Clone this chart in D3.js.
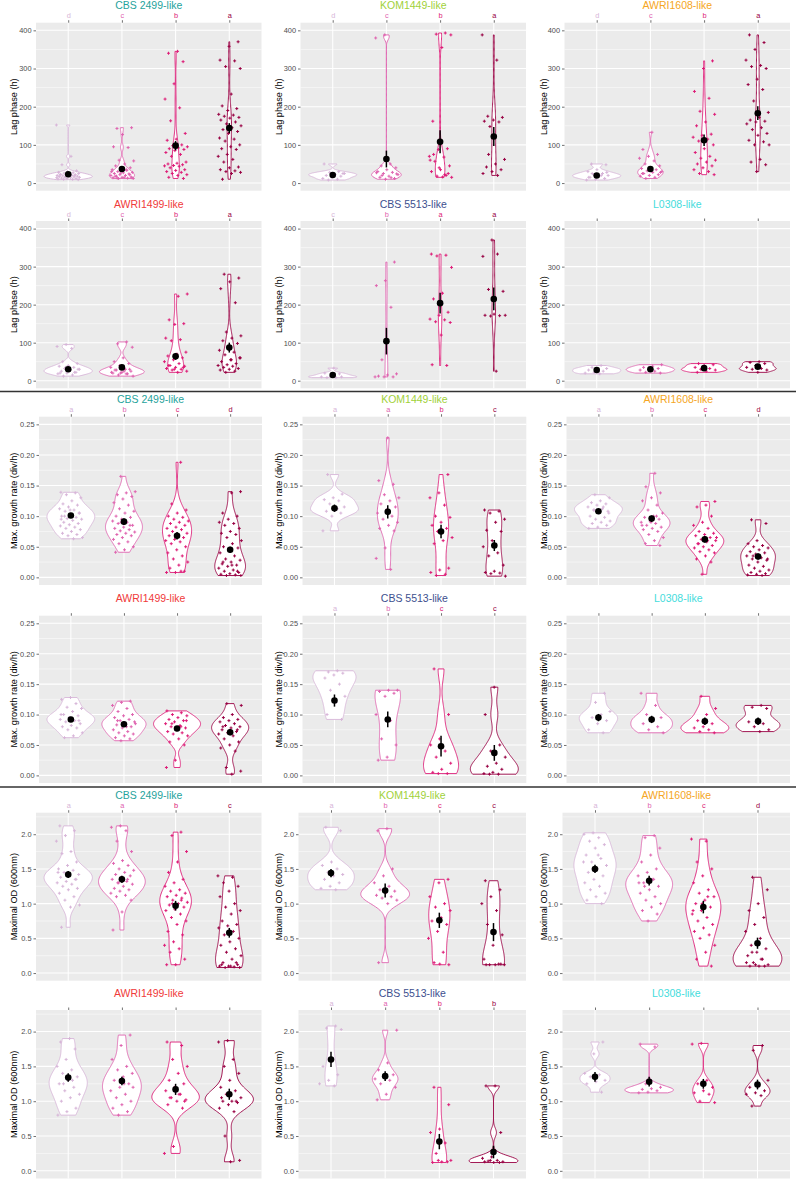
<!DOCTYPE html>
<html><head><meta charset="utf-8">
<script src="https://cdn.jsdelivr.net/npm/d3@7"></script>
<style>body{margin:0;background:#fff} svg{display:block} text{font-family:"Liberation Sans",Arial,sans-serif}</style>
</head><body><svg id="c" width="796" height="1181"></svg>
<script>
const strains = ["CBS 2499-like","KOM1449-like","AWRI1608-like","AWRI1499-like","CBS 5513-like","L0308-like"];
const strainColors = ["#1fa39c","#9fd13a","#f5a623","#f03a3a","#3d4f8e","#45dcdc"];
const groupColors = ["#d7b5d8","#df65b0","#dd1c77","#980043"];
const metricTitles = ["Lag phase (h)","Max. growth rate (div/h)","Maximal OD (600nm)"];
const lagTicks = [0,100,200,300,400];
const growthTicks = [0,0.05,0.10,0.15,0.20,0.25];
const odTicks = [0,0.5,1.0,1.5,2.0];

// ---- Lag phase (h) ----
const lag_CBS2499 = [
 [152,70,48,32,30,28,27,26,25,24,23,22,21,20,20,19,18,18,17,16,15,15,14,13,12,12,11,10,10,9,25,22,19,17,14],
 [143,145,127,95,93,60,58,50,45,40,38,35,33,30,28,27,25,24,22,20,20,18,16,15,14,13,12,12,15,18,22,26,30,35,13,14],
 [345,340,318,260,220,197,163,130,115,112,100,98,95,92,90,88,85,80,75,70,55,52,50,48,46,45,44,40,35,33,30,28,25,22,20,15,12],
 [370,358,322,320,305,300,233,202,195,190,180,178,175,172,170,165,160,155,150,145,140,135,130,118,115,110,100,95,90,88,75,70,62,55,42,40,35,32,30,28,25,10]];
const lag_KOM1449 = [
 [50,30,28,25,22,20,18,15,12,10,8,25,20],
 [388,380,50,45,40,35,30,28,25,22,18,15,12,10,27,14,20,24],
 [393,390,388,355,162,90,88,70,68,57,45,35,30,20,18,15,16,75,25,40,60,22],
 [388,322,175,172,165,162,160,148,62,50,42,35,30,25,20,75]];
const lag_AWRI1608 = [
 [50,48,35,30,25,22,20,18,15,12,10,8,20,25,28,18,15],
 [133,88,75,70,65,58,50,45,40,38,35,32,30,28,25,22,20,18,15,12,28,32,25],
 [320,300,240,222,188,180,160,150,128,125,120,115,110,100,90,80,70,65,60,55,50,45,40,35,30,25,22],
 [388,368,350,322,308,305,300,272,258,245,215,185,172,165,162,160,155,145,140,130,125,112,108,100,100,62,55,48,30]];
const lag_AWRI1499 = [
 [95,90,85,50,45,40,38,35,32,30,28,25,22,20,18,15,12,30,25,20,22,35],
 [102,97,88,60,50,45,40,35,30,28,25,22,20,18,15,12,25,28,30,20,22,18],
 [228,222,160,150,148,112,108,105,75,70,65,60,55,50,45,40,38,35,32,30,28,25,22,40,35,30],
 [280,270,260,242,205,128,118,112,105,98,90,80,75,68,60,55,50,45,42,40,38,35,32,30,28,25,22,60,55]];
const lag_CBS5513 = [
 [33,20,18,12,10,8,8,10,15],
 [312,263,250,193,55,18,15,12,10,10,10],
 [333,330,328,298,230,215,180,172,162,160,155,153,120,42,40],
 [370,327,333,240,235,175,172,171,170,172,25]];
const lag_L0308 = [
 [40,35,32,30,28,25,22,20,18],
 [42,38,35,32,30,28,25,22,20],
 [45,42,40,35,32,30,28,25,22],
 [50,48,45,40,35,32,30,28,22]];
const lagMeans = [[23,37,98,144],[21,63,108,122],[20,37,112,183],[30,35,64,87],[15,104,204,215],[28,30,33,37]];
const lagSE = [[3,5,12,13],[4,22,30,25],[3,6,15,18],[4,5,9,13],[3,35,27,30],[3,3,3,4]];
const lagLetters = [["d","c","b","a"],["d","c","b","a"],["d","c","b","a"],["d","c","b","a"],["c","b","a","a"],["","","",""]];

// ---- Max. growth rate (div/h) ----
const growth_CBS2499 = [
 [0.139,0.138,0.135,0.13,0.125,0.12,0.118,0.115,0.112,0.11,0.108,0.105,0.103,0.1,0.098,0.096,0.095,0.093,0.09,0.088,0.086,0.084,0.082,0.08,0.078,0.075,0.072,0.07,0.068,0.065,0.063,0.1,0.105,0.11,0.095],
 [0.165,0.14,0.138,0.135,0.132,0.128,0.122,0.118,0.112,0.108,0.105,0.1,0.098,0.095,0.092,0.09,0.088,0.085,0.082,0.08,0.078,0.076,0.074,0.072,0.07,0.068,0.065,0.062,0.058,0.055,0.05,0.045,0.041,0.085,0.09],
 [0.188,0.12,0.11,0.105,0.1,0.098,0.095,0.092,0.09,0.088,0.085,0.082,0.08,0.078,0.075,0.072,0.07,0.068,0.065,0.062,0.06,0.058,0.055,0.05,0.045,0.04,0.035,0.03,0.025,0.02,0.015,0.01,0.008,0.008,0.01],
 [0.14,0.138,0.105,0.1,0.095,0.09,0.088,0.085,0.08,0.075,0.072,0.07,0.065,0.06,0.055,0.05,0.048,0.045,0.04,0.035,0.03,0.028,0.025,0.022,0.02,0.018,0.015,0.012,0.01,0.008,0.006,0.005,0.004,0.003,0.003,0.02,0.025,0.01]];
const growth_KOM1449 = [
 [0.168,0.136,0.13,0.127,0.125,0.12,0.115,0.11,0.108,0.105,0.1,0.076,0.112],
 [0.228,0.158,0.152,0.135,0.13,0.125,0.12,0.115,0.11,0.105,0.1,0.095,0.09,0.085,0.08,0.076,0.048,0.031,0.013],
 [0.168,0.138,0.13,0.118,0.1,0.098,0.09,0.085,0.08,0.075,0.065,0.06,0.055,0.015,0.012,0.008,0.005,0.003],
 [0.11,0.108,0.105,0.095,0.09,0.077,0.075,0.06,0.05,0.04,0.035,0.02,0.01,0.008,0.007,0.006,0.002]];
const growth_AWRI1608 = [
 [0.135,0.13,0.125,0.122,0.12,0.118,0.115,0.112,0.11,0.108,0.105,0.1,0.098,0.095,0.092,0.09,0.088,0.085,0.082,0.08,0.115,0.11,0.105],
 [0.17,0.148,0.138,0.13,0.125,0.118,0.11,0.105,0.1,0.098,0.095,0.092,0.09,0.088,0.085,0.082,0.08,0.078,0.075,0.07,0.065,0.06,0.055,0.052,0.09,0.085,0.1],
 [0.124,0.118,0.115,0.1,0.09,0.085,0.08,0.075,0.072,0.07,0.068,0.065,0.062,0.06,0.058,0.055,0.052,0.05,0.048,0.045,0.042,0.04,0.035,0.03,0.025,0.005,0.065,0.06,0.055],
 [0.094,0.088,0.06,0.055,0.052,0.05,0.048,0.045,0.042,0.04,0.038,0.035,0.032,0.03,0.028,0.025,0.02,0.018,0.015,0.012,0.01,0.008,0.006,0.005,0.004,0.003,0.035,0.03]];
const growth_AWRI1499 = [
 [0.128,0.125,0.118,0.112,0.11,0.105,0.1,0.098,0.095,0.092,0.09,0.088,0.085,0.082,0.08,0.078,0.075,0.07,0.065,0.062,0.09,0.095,0.1],
 [0.122,0.12,0.115,0.11,0.105,0.1,0.098,0.095,0.092,0.09,0.088,0.085,0.083,0.08,0.078,0.075,0.072,0.07,0.068,0.065,0.062,0.06,0.057,0.085,0.08,0.09],
 [0.106,0.103,0.1,0.098,0.095,0.092,0.09,0.088,0.085,0.082,0.08,0.078,0.075,0.072,0.07,0.068,0.065,0.06,0.055,0.05,0.025,0.013,0.08,0.085,0.09],
 [0.118,0.115,0.1,0.095,0.092,0.09,0.088,0.085,0.082,0.08,0.078,0.075,0.072,0.07,0.068,0.065,0.06,0.055,0.05,0.045,0.04,0.013,0.007,0.002,0.08,0.075]];
const growth_CBS5513 = [
 [0.172,0.17,0.168,0.165,0.16,0.15,0.14,0.13,0.12,0.1,0.092],
 [0.14,0.14,0.138,0.135,0.13,0.1,0.09,0.06,0.05,0.03,0.025],
 [0.175,0.1,0.06,0.05,0.04,0.03,0.02,0.01,0.005,0.003,0.003],
 [0.145,0.1,0.05,0.04,0.03,0.02,0.015,0.01,0.005,0.003,0.002,0.002]];
const growth_L0308 = [
 [0.135,0.12,0.105,0.1,0.095,0.09,0.085,0.075,0.07],
 [0.135,0.115,0.1,0.095,0.09,0.085,0.08,0.075,0.07],
 [0.13,0.11,0.1,0.09,0.085,0.08,0.078,0.075,0.072,0.07],
 [0.115,0.112,0.11,0.09,0.088,0.085,0.08,0.075,0.072]];
const growthMeans = [[0.101,0.091,0.068,0.045],[0.113,0.107,0.075,0.052],[0.108,0.096,0.062,0.034],[0.092,0.084,0.077,0.071],[0.123,0.092,0.048,0.037],[0.095,0.092,0.089,0.089]];
const growthSE = [[0.004,0.005,0.006,0.005],[0.006,0.011,0.011,0.009],[0.003,0.005,0.005,0.005],[0.004,0.004,0.004,0.005],[0.01,0.013,0.017,0.013],[0.006,0.006,0.006,0.006]];
const growthLetters = [["a","b","c","d"],["a","a","b","c"],["a","b","c","d"],["","","",""],["a","b","c","c"],["","","",""]];

// ---- Maximal OD (600nm) ----
const od_CBS2499 = [
 [2.12,2.05,1.98,1.9,1.75,1.72,1.6,1.55,1.5,1.48,1.45,1.42,1.4,1.38,1.35,1.32,1.3,1.28,1.25,1.22,1.2,1.15,1.1,1.05,0.98,0.95,0.66,1.35,1.4,1.45],
 [2.12,2.1,2.05,1.9,1.75,1.62,1.58,1.55,1.5,1.48,1.45,1.42,1.4,1.38,1.35,1.32,1.3,1.28,1.25,1.22,1.2,1.18,1.15,1.12,1.1,1.05,0.88,0.62,1.35,1.3],
 [2.03,1.98,1.75,1.6,1.45,1.35,1.3,1.25,1.2,1.18,1.15,1.12,1.1,1.08,1.05,1.02,1.0,0.98,0.95,0.92,0.9,0.85,0.8,0.75,0.7,0.6,0.55,0.45,0.4,0.35,0.3,0.2,0.12,0.12,1.05,1.0],
 [1.4,1.38,1.3,1.25,1.18,1.1,1.0,0.95,0.9,0.85,0.75,0.7,0.68,0.65,0.6,0.55,0.5,0.45,0.4,0.35,0.3,0.25,0.2,0.15,0.12,0.1,0.1,0.09,0.08,0.08,0.1,0.12,0.15]];
const od_KOM1449 = [
 [2.1,2.05,1.6,1.55,1.5,1.45,1.42,1.4,1.35,1.3,1.25,1.22,1.2],
 [2.08,2.05,1.5,1.4,1.3,1.25,1.2,1.18,1.15,1.12,1.1,1.08,1.05,1.0,0.15],
 [1.35,1.3,1.1,1.0,0.95,0.9,0.8,0.75,0.7,0.6,0.5,0.3,0.15,0.12,0.13],
 [1.33,1.2,1.1,1.0,0.9,0.7,0.55,0.4,0.2,0.13,0.12,0.12,0.12,0.12,0.13]];
const od_AWRI1608 = [
 [2.02,2.0,1.95,1.9,1.85,1.8,1.7,1.65,1.6,1.55,1.5,1.45,1.4,1.35,1.3,1.25,1.2,1.15,1.1,1.05,1.0,1.5,1.6,1.7],
 [1.98,1.95,1.8,1.7,1.6,1.5,1.45,1.4,1.35,1.3,1.25,1.2,1.15,1.1,1.05,1.0,0.95,0.9,0.85,0.75,1.3,1.35,1.25],
 [1.93,1.9,1.6,1.5,1.4,1.3,1.2,1.15,1.1,1.05,1.0,0.95,0.9,0.85,0.8,0.75,0.7,0.65,0.6,0.55,0.5,0.4,0.3,0.2,0.1,1.0,0.9,1.1],
 [1.38,1.2,1.0,0.9,0.8,0.7,0.6,0.5,0.4,0.35,0.3,0.25,0.2,0.15,0.12,0.1,0.1,0.1,0.12,0.15,0.2,0.3]];
const od_AWRI1499 = [
 [1.9,1.85,1.75,1.6,1.5,1.45,1.4,1.35,1.3,1.25,1.2,1.15,1.1,1.05,1.0,0.9,0.85,0.8,1.3,1.25],
 [1.95,1.8,1.6,1.5,1.45,1.4,1.35,1.3,1.25,1.2,1.15,1.1,1.05,1.0,0.95,0.9,0.85,0.8,1.2,1.25],
 [1.85,1.8,1.6,1.5,1.4,1.3,1.25,1.2,1.15,1.1,1.05,1.02,1.0,0.95,0.9,0.35,0.25,1.1,1.05,1.0],
 [1.87,1.85,1.6,1.5,1.4,1.3,1.2,1.15,1.1,1.05,1.0,1.0,0.98,0.95,0.9,0.85,0.5,0.15,0.13,1.05,1.0,1.1]];
const od_CBS5513 = [
 [2.08,2.05,2.03,1.58,1.5,1.38,1.3,1.25,1.22],
 [2.02,1.55,1.45,1.38,1.35,1.32,1.3,1.25,1.2,1.1,1.02],
 [1.2,0.95,0.6,0.55,0.4,0.25,0.15,0.13,0.12,0.13,0.15],
 [1.22,1.22,0.55,0.2,0.18,0.15,0.14,0.13,0.12,0.13,0.12,0.15]];
const od_L0308 = [
 [1.85,1.68,1.4,1.38,1.35,1.3,1.28,1.25,1.13],
 [1.82,1.78,1.25,1.2,1.18,1.17,1.15,1.13,1.12],
 [1.83,1.82,1.3,1.25,1.2,1.15,1.12,1.1,1.0,0.98],
 [1.8,1.73,1.3,1.22,1.2,1.15,1.12,1.1,1.08,0.93]];
const odMeans = [[1.42,1.35,0.97,0.58],[1.44,1.19,0.76,0.59],[1.5,1.33,0.95,0.43],[1.34,1.29,1.17,1.1],[1.6,1.36,0.42,0.27],[1.35,1.28,1.25,1.24]];
const odSE = [[0.05,0.05,0.07,0.07],[0.06,0.1,0.11,0.13],[0.06,0.07,0.09,0.08],[0.06,0.06,0.08,0.08],[0.11,0.07,0.11,0.09],[0.07,0.07,0.07,0.07]];
const odLetters = [["a","a","b","c"],["a","b","c","c"],["a","b","c","d"],["","","",""],["a","a","b","b"],["","","",""]];

// ---- assemble (built from the arrays above) ----
const sections = [
 {title: metricTitles[0], ticks: lagTicks, lim:[0,400], fmt: d3.format("d"),
  pts:[lag_CBS2499,lag_KOM1449,lag_AWRI1608,lag_AWRI1499,lag_CBS5513,lag_L0308], means: lagMeans, se: lagSE, letters: lagLetters},
 {title: metricTitles[1], ticks: growthTicks, lim:[0,0.25], fmt: d3.format(".2f"),
  pts:[growth_CBS2499,growth_KOM1449,growth_AWRI1608,growth_AWRI1499,growth_CBS5513,growth_L0308], means: growthMeans, se: growthSE, letters: growthLetters},
 {title: metricTitles[2], ticks: odTicks, lim:[0,2.2], fmt: d3.format(".1f"),
  pts:[od_CBS2499,od_KOM1449,od_AWRI1608,od_AWRI1499,od_CBS5513,od_L0308], means: odMeans, se: odSE, letters: odLetters}
];

// layout (pixels)
const rowsY = [[[22.7,190.7],[221,388.3]], [[416.7,585],[615.7,783]], [[812.7,980.7],[1010,1178.5]]];
const colsX = [[[36,261.5],[300.5,526],[564.5,790]], [[39,262],[302.5,526.3],[566.5,790]], [[36,261.5],[298.5,526],[562.5,790]]];
const sepY = [391.5, 787];

const svg = d3.select("#c");

function bwNrd0(x){
  const n = x.length, s = x.slice().sort(d3.ascending);
  const sd = d3.deviation(x) || 0;
  const iqr = d3.quantile(s,0.75) - d3.quantile(s,0.25);
  let lo = Math.min(sd, iqr/1.34);
  if (!(lo > 0)) lo = sd || Math.abs(s[0]) || 1;
  return 0.9 * lo * Math.pow(n, -0.2);
}
function kde(x){
  const bw = bwNrd0(x), n = x.length;
  const lo = d3.min(x), hi = d3.max(x), K = 120;
  const out = [];
  for (let k=0;k<=K;k++){
    const y = lo + (hi-lo)*k/K;
    let s = 0;
    for (const v of x){ const u=(y-v)/bw; s += Math.exp(-0.5*u*u); }
    out.push([y, s/(n*bw*Math.sqrt(2*Math.PI))]);
  }
  return out;
}

sections.forEach((sec, si) => {
  for (let p=0;p<6;p++){
    const r = Math.floor(p/3), c = p%3;
    const [top, bottom] = rowsY[si][r];
    const [left, right] = colsX[si][c];
    const span = sec.lim[1]-sec.lim[0];
    const y = d3.scaleLinear().domain([sec.lim[0]-0.05*span, sec.lim[1]+0.05*span]).range([bottom, top]);
    const x = d3.scalePoint().domain([0,1,2,3]).range([left,right]).padding(0.6);
    const step = x.step();
    const g = svg.append("g");
    g.append("rect").attr("x",left).attr("y",top).attr("width",right-left).attr("height",bottom-top).attr("fill","#EBEBEB");
    // minor grid
    const tk = sec.ticks, d = tk[1]-tk[0];
    const minors = [];
    for (let v = tk[0]-d/2; v <= y.domain()[1]; v += d) if (v >= y.domain()[0]) minors.push(v);
    g.selectAll(null).data(minors).join("line")
      .attr("x1",left).attr("x2",right).attr("y1",v=>y(v)).attr("y2",v=>y(v))
      .attr("stroke","#fff").attr("stroke-width",0.5);
    g.selectAll(null).data(tk).join("line")
      .attr("x1",left).attr("x2",right).attr("y1",v=>y(v)).attr("y2",v=>y(v))
      .attr("stroke","#fff").attr("stroke-width",1.05);
    g.selectAll(null).data([0,1,2,3]).join("line")
      .attr("x1",v=>x(v)).attr("x2",v=>x(v)).attr("y1",top).attr("y2",bottom)
      .attr("stroke","#fff").attr("stroke-width",1.05);
    // y axis
    const ya = g.append("g").attr("transform",`translate(${left},0)`)
      .call(d3.axisLeft(y).tickValues(tk).tickFormat(sec.fmt).tickSize(2.5).tickPadding(2));
    ya.select(".domain").remove();
    ya.selectAll("line").attr("stroke","#333").attr("stroke-width",0.7);
    ya.selectAll("text").attr("fill","#4D4D4D").attr("font-size","7.4px").attr("font-family","Liberation Sans, Arial, sans-serif");
    // top axis with letters
    const lt = sec.letters[p];
    const xa = g.append("g").attr("transform",`translate(0,${top})`)
      .call(d3.axisTop(x).tickFormat(i=>lt[i]).tickSize(2.5).tickPadding(2));
    xa.select(".domain").remove();
    xa.selectAll("line").attr("stroke","#333").attr("stroke-width",0.7);
    xa.selectAll("text").attr("fill",i=>groupColors[i]).attr("font-size","7.4px").attr("font-family","Liberation Sans, Arial, sans-serif");
    // title
    g.append("text").attr("x",(left+right)/2).attr("y",top-17).attr("dy","0.35em")
      .attr("text-anchor","middle").attr("font-size","10.5px").attr("fill",strainColors[p]).text(strains[p]);
    // y title
    const tx = c*265 + 14, ty = (top+bottom)/2;
    g.append("text").attr("transform",`translate(${tx},${ty}) rotate(-90)`).attr("dy","0.35em")
      .attr("text-anchor","middle").attr("font-size","9.2px").attr("fill","#000").text(sec.title);
    // violins
    const groups = sec.pts[p];
    const dens = groups.map(kde);
    const maxD = d3.max(dens, dd => d3.max(dd, e=>e[1]));
    const half = 0.45*step;
    dens.forEach((dd, gi) => {
      const cx = x(gi);
      const w = e => half*e[1]/maxD;
      const pts = dd.map(e => [cx + w(e), y(e[0])]).concat(dd.slice().reverse().map(e => [cx - w(e), y(e[0])]));
      g.append("path").attr("d", d3.line()(pts) + "Z")
        .attr("fill","#fff").attr("stroke",groupColors[gi]).attr("stroke-width",0.9);
    });
    // jittered points (+)
    groups.forEach((vals, gi) => {
      const cx = x(gi);
      vals.forEach((v, i) => {
        const f = ((i*0.6180339887 + gi*0.291 + p*0.137 + si*0.073) % 1)*2 - 1;
        const px = cx + f*0.22*step, py = y(v), a = 1.5;
        g.append("path").attr("d",`M${px-a},${py}H${px+a}M${px},${py-a}V${py+a}`)
          .attr("stroke",groupColors[gi]).attr("stroke-width",1).attr("fill","none");
      });
    });
    // mean +/- se
    sec.means[p].forEach((m, gi) => {
      const s = sec.se[p][gi], cx = x(gi);
      g.append("line").attr("x1",cx).attr("x2",cx).attr("y1",y(m-s)).attr("y2",y(m+s))
        .attr("stroke","#000").attr("stroke-width",1.5);
      g.append("circle").attr("cx",cx).attr("cy",y(m)).attr("r",3.3).attr("fill","#000");
    });
  }
});
sepY.forEach(v => svg.append("line").attr("x1",0).attr("x2",796).attr("y1",v).attr("y2",v)
  .attr("stroke","#333").attr("stroke-width",1.4));
</script></body></html>
